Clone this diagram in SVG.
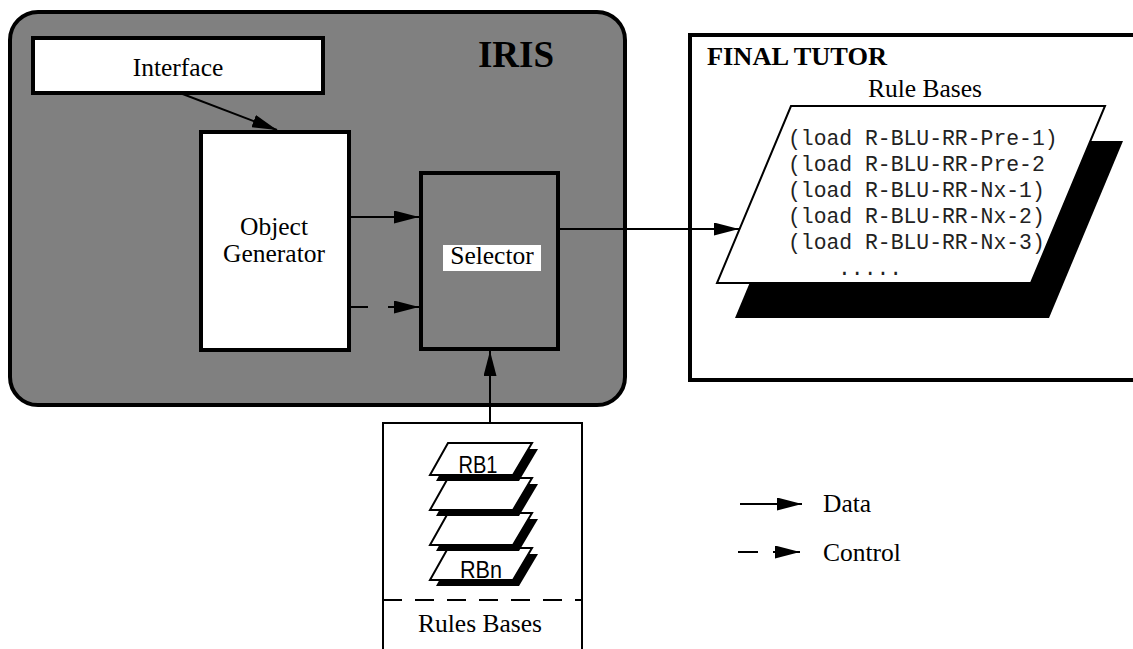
<svg xmlns="http://www.w3.org/2000/svg" width="1133" height="649" viewBox="0 0 1133 649">
<style>
.serif{font-family:"Liberation Serif","Times New Roman",serif;fill:#000}
.lbl{font-size:25.5px;text-anchor:middle}
.bold{font-weight:bold}
.mono{font-family:"Liberation Mono","Courier New",monospace;font-size:21.4px;fill:#222}
.sans{font-family:"Liberation Sans",Arial,sans-serif;font-size:24px;text-anchor:middle;fill:#000}
.box{fill:#fff;stroke:#000;stroke-width:4}
.conn{stroke:#000;stroke-width:2;fill:none}
.plate{fill:#fff;stroke:#000;stroke-width:2}
</style>
<defs>
<marker id="arr" viewBox="0 0 25 13" refX="25" refY="6.5" markerWidth="25" markerHeight="13" markerUnits="userSpaceOnUse" orient="auto">
<path d="M0,0 L25,6.5 L0,13 Z" fill="#000"/>
</marker>
</defs>

<g id="iris">
<rect x="10" y="12" width="615" height="393" rx="28" ry="28" fill="#808080" stroke="#000" stroke-width="4"/>
<text class="serif bold" x="516" y="67" font-size="37" text-anchor="middle">IRIS</text>
</g>

<g id="interface">
<rect class="box" x="33" y="38" width="290" height="55"/>
<text class="serif lbl" x="178" y="76">Interface</text>
</g>

<g id="object-generator">
<rect class="box" x="201" y="132" width="148" height="218"/>
<text class="serif lbl" x="274" y="235">Object</text>
<text class="serif lbl" x="274" y="262">Generator</text>
</g>

<g id="selector">
<rect x="421" y="173" width="137" height="176" fill="#808080" stroke="#000" stroke-width="4"/>
<rect x="443" y="245" width="98" height="26" fill="#fff"/>
<text class="serif lbl" x="492" y="264">Selector</text>
</g>

<g id="final-tutor">
<path d="M1140,35 H690 V380 H1140" fill="#fff" stroke="#000" stroke-width="4"/>
<text class="serif bold" x="707" y="65" font-size="26" textLength="180" lengthAdjust="spacingAndGlyphs">FINAL TUTOR</text>
<text class="serif lbl" x="925" y="97">Rule Bases</text>
<polygon points="809,141 1123,141 1049,318 735,318" fill="#000"/>
<polygon class="plate" points="791,106 1105,106 1031,283 717,283"/>
<text class="mono" x="788" y="145">(load R-BLU-RR-Pre-1)</text>
<text class="mono" x="788" y="171">(load R-BLU-RR-Pre-2</text>
<text class="mono" x="788" y="197">(load R-BLU-RR-Nx-1)</text>
<text class="mono" x="788" y="223">(load R-BLU-RR-Nx-2)</text>
<text class="mono" x="788" y="249">(load R-BLU-RR-Nx-3)</text>
<text class="mono" x="838" y="275">.....</text>
</g>

<g id="rules-bases">
<path d="M383,652 V423 H582 V652" fill="none" stroke="#000" stroke-width="2"/>
<line x1="383" y1="600" x2="582" y2="600" stroke="#000" stroke-width="2" stroke-dasharray="19 13"/>
<text class="serif lbl" x="480" y="632">Rules Bases</text>
<g id="plate-4">
<polygon points="454,554 538,554 519,586 436,586" fill="#000"/>
<polygon class="plate" points="448,548 532,548 513,580 430,580"/>
<text class="sans" x="481" y="578" textLength="42" lengthAdjust="spacingAndGlyphs">RBn</text>
</g>
<g id="plate-3">
<polygon points="454,519 538,519 519,551 436,551" fill="#000"/>
<polygon class="plate" points="448,513 532,513 513,545 430,545"/>
</g>
<g id="plate-2">
<polygon points="454,484 538,484 519,516 436,516" fill="#000"/>
<polygon class="plate" points="448,478 532,478 513,510 430,510"/>
</g>
<g id="plate-1">
<polygon points="454,449 538,449 519,481 436,481" fill="#000"/>
<polygon class="plate" points="448,443 532,443 513,475 430,475"/>
<text class="sans" x="478" y="473" textLength="39" lengthAdjust="spacingAndGlyphs">RB1</text>
</g>
</g>

<g id="legend">
<line class="conn" x1="740" y1="504" x2="802" y2="504" marker-end="url(#arr)"/>
<text class="serif" x="823" y="512" font-size="25.5">Data</text>
<line class="conn" x1="738" y1="552" x2="800" y2="552" stroke-dasharray="20 15 40" marker-end="url(#arr)"/>
<text class="serif" x="823" y="561" font-size="25.5">Control</text>
</g>

<g id="connectors">
<line class="conn" x1="180" y1="93" x2="277" y2="130" marker-end="url(#arr)"/>
<line class="conn" x1="351" y1="217" x2="419" y2="217" marker-end="url(#arr)"/>
<line class="conn" x1="351" y1="307" x2="419" y2="307" stroke-dasharray="17 20 40" marker-end="url(#arr)"/>
<line class="conn" x1="560" y1="229" x2="739" y2="229" marker-end="url(#arr)"/>
<line class="conn" x1="490" y1="423" x2="490" y2="351" marker-end="url(#arr)"/>
</g>
</svg>
